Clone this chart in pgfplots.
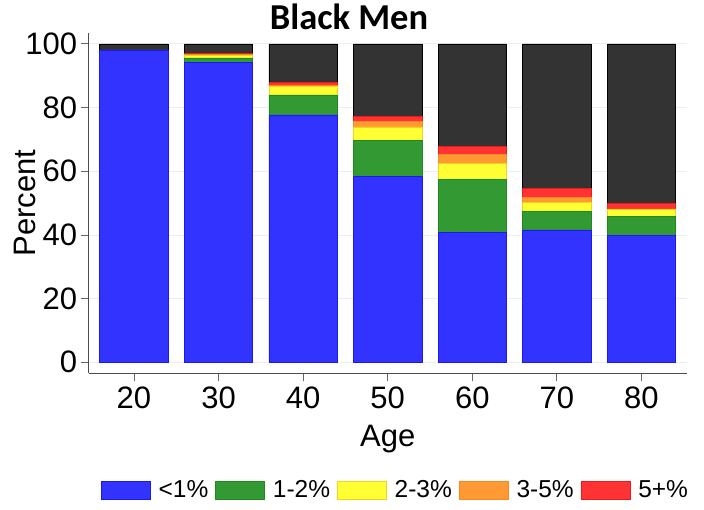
\documentclass[border=0pt]{standalone}
\usepackage{fontspec}
\setmainfont{Liberation Sans}
\newfontfamily\titlefont{Carlito}
\usepackage{pgfplots}
\pgfplotsset{compat=1.18}
\definecolor{cblue}{HTML}{3333FF}
\definecolor{eblue}{HTML}{1A1AEE}
\definecolor{cgreen}{HTML}{339933}
\definecolor{egreen}{HTML}{1E8A1E}
\definecolor{cyellow}{HTML}{FFFF33}
\definecolor{eyellow}{HTML}{F2D21A}
\definecolor{corange}{HTML}{FF9933}
\definecolor{eorange}{HTML}{F58A1F}
\definecolor{cred}{HTML}{FF3333}
\definecolor{ered}{HTML}{EE1A1A}
\definecolor{cdark}{HTML}{333333}
\definecolor{gridc}{HTML}{EAF0F2}
\pgfplotsset{lgd/.style={legend image code/.code={\draw[##1,line width=0.6pt] (0pt,-9pt) rectangle (49pt,9pt);}}}
\begin{document}
\begin{tikzpicture}[x=1pt,y=1pt]
\path (-88.7,-135.7) rectangle (615.3,373.3);
\begin{axis}[at={(0,0)}, anchor=south west, scale only axis,
  width=598pt, height=340.6pt,
  xmin=14.65, xmax=85.35, ymin=-3.45, ymax=103.5,
  axis x line*=bottom, axis y line*=left,
  axis line style={-, black!70, line width=0.8pt},
  ybar stacked, bar width=8.1,
  xtick={20,30,40,50,60,70,80}, ytick={0,20,40,60,80,100},
  tick align=outside, major tick length=8pt,
  tick style={black!60, line width=0.8pt},
  ymajorgrids, grid style={gridc, line width=0.8pt},
  /pgf/number format/assume math mode=true,
  tick label style={font=\fontsize{31}{33}\selectfont},
  yticklabel style={xshift=0pt},
  xticklabel style={yshift=-2pt},
  label style={font=\fontsize{31}{33}\selectfont},
  xlabel={Age}, ylabel={Percent},
  xlabel style={at={([yshift=-66pt]axis description cs:0.5,0)}, anchor=center},
  ylabel style={at={([xshift=-64pt]axis description cs:0,0.5)}, anchor=center},
  legend columns=5,
  legend style={at={(0.5114,-0.3426)}, anchor=center, draw=none, fill=none,
    font=\fontsize{24.5}{26}\selectfont,
    nodes={inner sep=0pt},
    /tikz/every even column/.append style={column sep=7pt},
    /tikz/every odd column/.append style={column sep=8pt}},
  legend entries={<1\%,1-2\%,2-3\%,3-5\%,5+\%},
]
\addplot[lgd, fill=cblue, draw=eblue, line width=0.6pt] coordinates {(20,98.1) (30,94.2) (40,77.7) (50,58.4) (60,40.7) (70,41.6) (80,39.9)};
\addplot[lgd, fill=cgreen, draw=egreen, line width=0.6pt] coordinates {(20,0) (30,1.4) (40,6.3) (50,11.4) (60,16.8) (70,5.9) (80,6.0)};
\addplot[lgd, fill=cyellow, draw=eyellow, line width=0.6pt] coordinates {(20,0) (30,0.65) (40,2.7) (50,4.1) (60,4.9) (70,2.6) (80,2.1)};
\addplot[lgd, fill=corange, draw=eorange, line width=0.6pt] coordinates {(20,0) (30,0.35) (40,0.3) (50,1.7) (60,3.0) (70,1.6) (80,0.2)};
\addplot[lgd, fill=cred, draw=ered, line width=0.6pt] coordinates {(20,0) (30,0.3) (40,0.8) (50,1.7) (60,2.3) (70,3.0) (80,1.6)};
\addplot[fill=cdark, draw=black, line width=0.6pt] coordinates {(20,1.9) (30,3.1) (40,12.2) (50,22.7) (60,32.3) (70,45.3) (80,50.2)};
\end{axis}
\node[anchor=base, font=\titlefont\bfseries\fontsize{36.5}{37}\selectfont] at (260.3,343.3) {Black Men};
\end{tikzpicture}
\end{document}
